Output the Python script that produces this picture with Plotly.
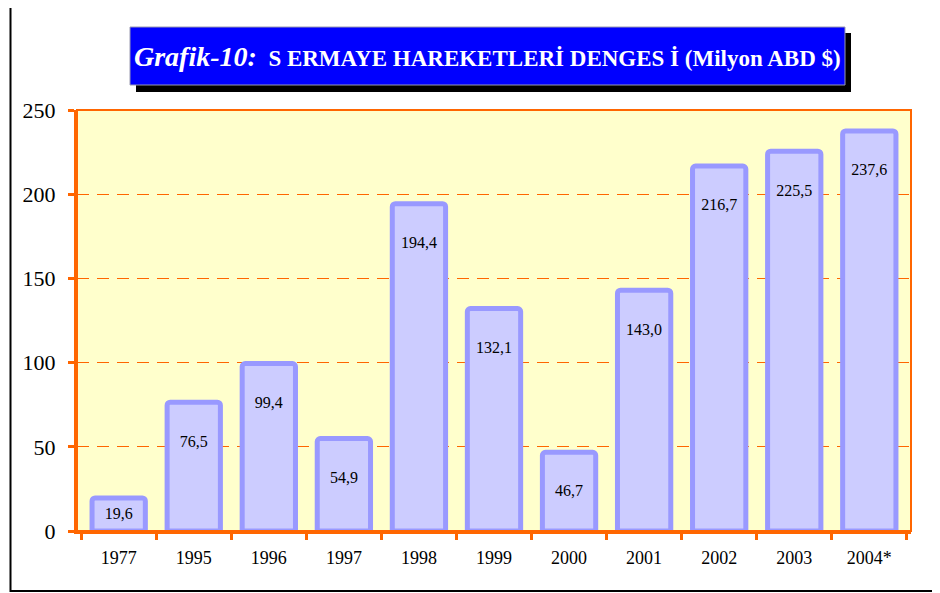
import plotly.graph_objects as go

years = ["1977", "1995", "1996", "1997", "1998", "1999", "2000", "2001", "2002", "2003", "2004*"]
values = [19.6, 76.5, 99.4, 54.9, 194.4, 132.1, 46.7, 143.0, 216.7, 225.5, 237.6]
y_ticks = [0, 50, 100, 150, 200, 250]

# page body has an 8px margin; work in target pixel coords and shift
OFF = 8
W, H = 940, 593
L, T = 77 - OFF, 110 - OFF
R = W - (911 - OFF)
B = H - (531 - OFF)
PW, PH = W - L - R, H - T - B

def px(x):
    return (x - OFF - L) / PW

def py(y):
    return 1 - (y - OFF - T) / PH

labels = [f"{v:.1f}".replace(".", ",") for v in values]
label_y = [max(v / 2, v - 24) for v in values]

serif = "Liberation Serif, Times New Roman, serif"
orange = "#FF6600"

fig = go.Figure()
fig.add_trace(go.Bar(
    x=years, y=values,
    marker=dict(color="#CCCCFF", line=dict(color="#9999FF", width=5), cornerradius=3),
    hoverinfo="skip",
))
fig.add_trace(go.Scatter(
    x=years, y=label_y, mode="text", text=labels,
    textfont=dict(family=serif, size=16, color="#000000"),
    hoverinfo="skip",
))

shapes = [
    # outer frame
    dict(type="rect", xref="paper", yref="paper", x0=px(10.5), x1=px(980), y0=py(591), y1=py(3),
         line=dict(color="#000000", width=2), layer="below"),
    # plot area border (top/right)
    dict(type="rect", xref="paper", yref="paper", x0=0, x1=1, y0=0, y1=1,
         line=dict(color=orange, width=2), layer="above"),
    # title shadow
    dict(type="rect", xref="paper", yref="paper", x0=px(136), x1=px(851), y0=py(92), y1=py(33),
         fillcolor="#000000", line=dict(width=0)),
    # title box
    dict(type="rect", xref="paper", yref="paper", x0=px(130), x1=px(845), y0=py(85), y1=py(27),
         fillcolor="#0000FF", line=dict(color="#9A9AB0", width=1)),
]

fig.update_layout(
    width=W, height=H,
    margin=dict(l=L, r=R, t=T, b=B),
    paper_bgcolor="#FFFFFF",
    plot_bgcolor="#FFFFCC",
    showlegend=False,
    bargap=0.29,
    shapes=shapes,
    annotations=[dict(
        xref="paper", yref="paper", x=px(487.5), y=py(56), xanchor="center", yanchor="middle",
        showarrow=False,
        text="<b><i><span style='font-size:28px'>Grafik-10:</span></i>  S ERMAYE HAREKETLERİ DENGES İ (Milyon ABD $)</b>",
        font=dict(family=serif, size=23, color="#FFFFFF"),
    )],
    xaxis=dict(
        showgrid=False, showline=True, linecolor=orange, linewidth=3,
        ticks="outside", tickson="boundaries", ticklen=6, tickwidth=3, tickcolor=orange,
        tickfont=dict(family=serif, size=18, color="#000000"),
        ticklabelstandoff=8,
    ),
    yaxis=dict(
        range=[0, 250], tickvals=y_ticks, ticktext=[str(t) for t in y_ticks],
        showgrid=True, gridcolor=orange, gridwidth=1, griddash="12px,8px",
        zeroline=False, showline=True, linecolor=orange, linewidth=3,
        ticks="outside", ticklen=6, tickwidth=3, tickcolor=orange,
        tickfont=dict(family=serif, size=22, color="#000000"),
        ticklabelstandoff=8,
    ),
)

fig.write_html("out.html")
